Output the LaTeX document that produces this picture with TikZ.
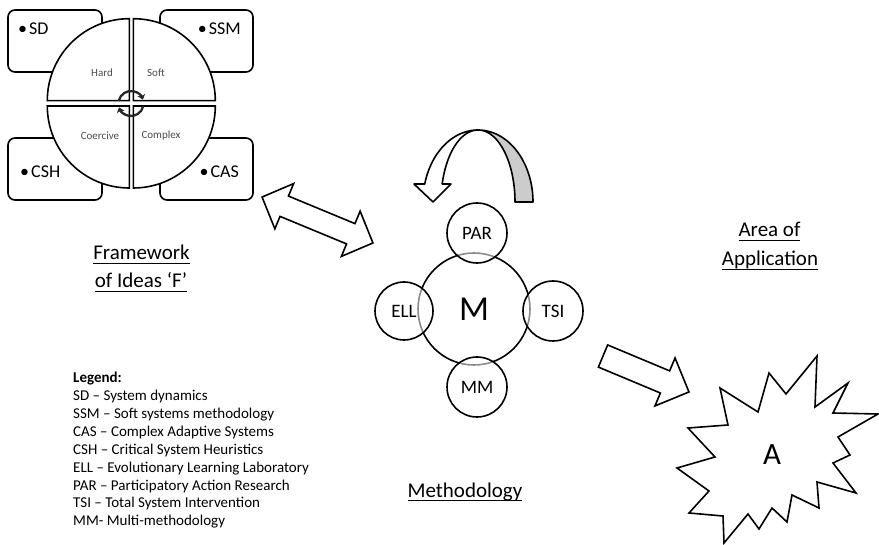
\documentclass[tikz,border=0pt]{standalone}
\usepackage{fontspec}
\setmainfont{Carlito}
\usetikzlibrary{arrows.meta}
% underline at a fixed distance below the baseline
\newcommand{\ulx}[1]{\setbox0\hbox{#1}\rlap{\rule[-4pt]{\wd0}{1.3pt}}\box0}
\begin{document}
\begin{tikzpicture}[x=1pt,y=-1pt,
  outl/.style={draw=black, line width=1.6pt},
  mbox/.style={outl, fill=white, rounded corners=7pt},
  quad/.style={outl, fill=white},
  tag/.style={font=\fontsize{18}{21}\selectfont, inner sep=0pt},
  qlabel/.style={font=\fontsize{11}{13}\selectfont, text=black!70, inner sep=0pt},
  title/.style={font=\fontsize{21}{25}\selectfont, inner sep=0pt, anchor=base},
  legend/.style={font=\fontsize{15}{18}\selectfont, inner sep=0pt, anchor=base west},
  sub/.style={circle, outl, minimum size=60pt, inner sep=0pt, fill=white, fill opacity=0.55, text opacity=1, font=\fontsize{19}{21}\selectfont},
  cyc/.style={line width=2.3pt, draw=black!85, -{Stealth[length=5pt,width=8pt]}}
]
\useasboundingbox (0,0) rectangle (879,545);
\fill[white] (0,0) rectangle (879,545);

% ---- framework of ideas: four method boxes
\draw[mbox] (8,10) rectangle (102,72);
\draw[mbox] (160,10) rectangle (253,72);
\draw[mbox] (8,138) rectangle (102,200);
\draw[mbox] (160,138) rectangle (253,200);
\node[tag, anchor=base west] (sd)  at (18,35)  {•\hspace{2pt}SD};
\node[tag, anchor=base east] (ssm) at (241,35) {•\hspace{2pt}SSM};
\node[tag, anchor=base west] (csh) at (20,178) {•\hspace{2pt}CSH};
\node[tag, anchor=base east] (cas) at (239,178) {•\hspace{2pt}CAS};

% four quadrants of the circle
\draw[quad] (129.3,100.7) -- ++(-82,0) arc[start angle=180, end angle=270, radius=82] -- cycle;
\draw[quad] (133.3,100.7) -- ++(0,-82) arc[start angle=270, end angle=360, radius=82] -- cycle;
\draw[quad] (133.3,106) -- ++(82,0) arc[start angle=0, end angle=90, radius=82] -- cycle;
\draw[quad] (129.3,106) -- ++(0,82) arc[start angle=90, end angle=180, radius=82] -- cycle;
\node[qlabel] (hard) at (102,73) {Hard};
\node[qlabel] (soft) at (156,73) {Soft};
\node[qlabel] (coer) at (100,136) {Coercive};
\node[qlabel] (cplx) at (161,136) {Complex};

% cycle arrows at the centre
\draw[cyc] (131,103.5) ++(192:12.5) arc[start angle=192, end angle=342, radius=12.5];
\draw[cyc] (131,103.5) ++(12:12.5) arc[start angle=12, end angle=162, radius=12.5];

\node[title] (fw1) at (141.5,260) {\ulx{Framework}};
\node[title] (fw2) at (141,288) {\ulx{of Ideas ‘F’}};

% ---- two-way block arrow between F and M
\begin{scope}[shift={(317.5,220)}, rotate=-22.5]
\draw[outl, fill=white] (-60,0) -- (-36,24.5) -- (-36,11) -- (36,11) -- (36,24.5)
  -- (60,0) -- (36,-24.5) -- (36,-11) -- (-36,-11) -- (-36,-24.5) -- cycle;
\end{scope}

% ---- curved arrow above the methodology
\draw[outl, fill=black!20, line join=round]
  plot[domain=270:360, samples=40] ({478+55*cos(\x)},{202+72*sin(\x)})
  -- plot[domain=360:270, samples=40] ({478+37*cos(\x)},{202+72*sin(\x)}) -- cycle;
\draw[outl, fill=white, line join=round]
  plot[domain=194.5:270, samples=40] ({478+55*cos(\x)},{202+72*sin(\x)})
  -- plot[domain=270:194.5, samples=40] ({478+37*cos(\x)},{202+72*sin(\x)})
  -- (451,184) -- (433,202) -- (414,184) -- cycle;

% ---- methodology M and its methods
\node[circle, outl, minimum size=112pt, inner sep=0pt, font=\fontsize{35}{37}\selectfont] (M) at (474,309) {M};
\node[sub] (par) at (477,233) {PAR};
\node[sub, minimum size=58pt] (ell) at (404,311) {ELL};
\node[sub] (tsi) at (553,311) {TSI};
\node[sub] (mm)  at (477,387) {MM};
\node[title] (meth) at (465,497) {\ulx{Methodology}};

% ---- block arrow towards the area of application
\begin{scope}[shift={(646,374)}, rotate=-22.7]
\draw[outl, fill=white] (-46.6,-12) -- (20.6,-12) -- (20.6,-26) -- (46.6,0)
  -- (20.6,26) -- (20.6,12) -- (-46.6,12) -- cycle;
\end{scope}

% ---- area of application A
\draw[outl, fill=white] (720,388) -- (758,412) -- (769,373) -- (786,394) -- (817,356)
  -- (815,407) -- (848,383) -- (833,413) -- (878,414) -- (838,437) -- (850,455)
  -- (833,463) -- (856,493) -- (817,482) -- (819,508) -- (792,495) -- (787,522)
  -- (772,508) -- (759,529) -- (748,514) -- (724,543) -- (723,516) -- (689,513)
  -- (709,491) -- (677,468) -- (715,457) -- (688,428) -- (728,425) -- cycle;
\node[font=\fontsize{31}{33}\selectfont, inner sep=0pt] (A) at (772,455) {A};
\node[title] (area1) at (769.5,237) {\ulx{Area of}};
\node[title] (area2) at (770,266) {\ulx{Application}};

% ---- legend
\foreach \t [count=\i from 0] in {\textbf{Legend:}, SD – System dynamics,
  SSM – Soft systems methodology, CAS – Complex Adaptive Systems,
  CSH – Critical System Heuristics, ELL – Evolutionary Learning Laboratory,
  PAR – Participatory Action Research, TSI – Total System Intervention,
  MM- Multi-methodology}
  \node[legend] (leg\i) at (73,383+17.85*\i) {\t};
\end{tikzpicture}
\end{document}
